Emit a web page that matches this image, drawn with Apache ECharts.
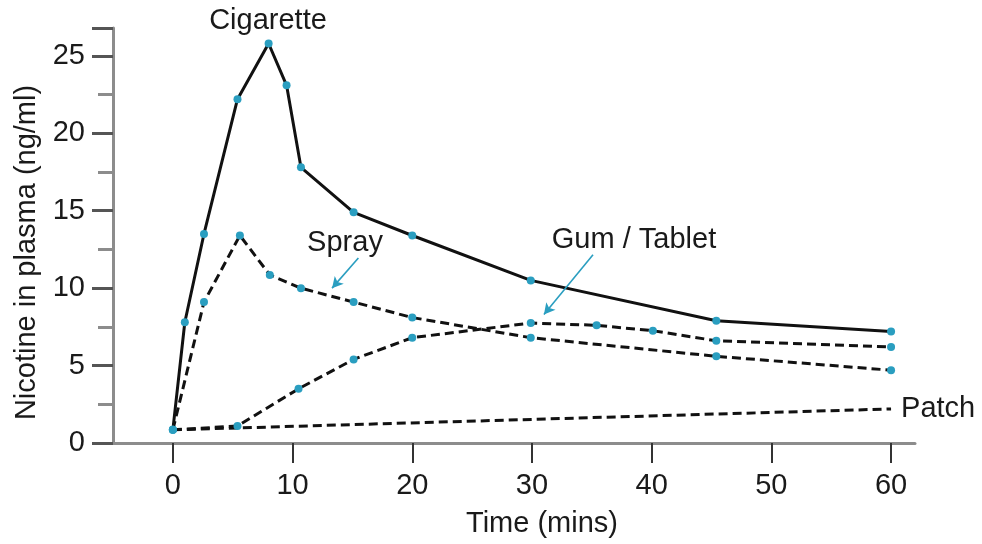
<!DOCTYPE html>
<html style="height: 100%">
<head>
    <meta charset="utf-8">
    <script src="https://cdn.jsdelivr.net/npm/echarts@6/dist/echarts.min.js"></script>
</head>
<body style="height: 100%; margin: 0; background: #fff">
    <div id="main" style="width: 982px; height: 544px"></div>
    <script type="text/javascript">
    // time (mins), nicotine (ng/ml)
    var cigarette = [[0, 0.85], [1.0, 7.8], [2.6, 13.5], [5.4, 22.2], [8.0, 25.8], [9.5, 23.1],
        [10.7, 17.8], [15.1, 14.9], [20.0, 13.4], [29.9, 10.5], [45.4, 7.9], [60, 7.2]];
    var spray = [[0, 0.85], [2.6, 9.1], [5.6, 13.4], [8.1, 10.85], [10.7, 10.0], [15.1, 9.1],
        [20.0, 8.1], [29.9, 6.8], [45.4, 5.6], [60, 4.7]];
    var gum = [[0, 0.85], [5.4, 1.1], [10.5, 3.5], [15.1, 5.4], [20.0, 6.8], [29.9, 7.75],
        [35.4, 7.6], [40.1, 7.25], [45.4, 6.6], [60, 6.2]];
    var patch = [[0, 0.85], [60, 2.2]];

    var xTicks = [0, 10, 20, 30, 40, 50, 60];
    var yTicks = [0, 5, 10, 15, 20, 25];

    // arrow start / end in data coords
    var sprayArrow = [[15.5, 11.95], [13.3, 10.0]];
    var gumArrow = [[35.1, 12.15], [31.0, 8.3]];

    var teal = '#2a9ec0';
    var axisGray = '#8c8c8c';
    var font = 'Liberation Sans, Arial, sans-serif';
    var fs = 29;

    var chart = echarts.init(document.getElementById('main'));

    function lineSeries(name, data, dashed) {
        return {
            name: name,
            type: 'line',
            data: data,
            symbol: 'circle',
            symbolSize: 8,
            showSymbol: true,
            itemStyle: {color: teal},
            lineStyle: {color: '#111', width: 3, type: dashed ? [9, 5] : 'solid'},
            z: 3,
            animation: false
        };
    }

    var sSpray = lineSeries('Spray', spray, true);
    sSpray.markLine = {
        silent: true,
        symbol: ['none', 'arrow'],
        symbolSize: [9, 11],
        label: {show: false},
        lineStyle: {color: teal, width: 1.6, type: 'solid'},
        data: [
            [{coord: sprayArrow[0]}, {coord: sprayArrow[1]}],
            [{coord: gumArrow[0]}, {coord: gumArrow[1]}]
        ]
    };

    var sPatch = lineSeries('Patch', patch, true);
    sPatch.showSymbol = false;
    sPatch.z = 2;
    sPatch.endLabel = {
        show: true,
        formatter: 'Patch',
        distance: 10,
        fontFamily: font,
        fontSize: fs,
        color: '#1a1a1a'
    };

    var option = {
        animation: false,
        grid: {left: 113, right: 67, top: 28, bottom: 101},
        xAxis: {
            type: 'value',
            min: -5,
            max: 62,
            name: 'Time (mins)',
            nameLocation: 'middle',
            nameGap: 66,
            nameTextStyle: {fontFamily: font, fontSize: fs, color: '#1a1a1a', padding: [0, 0, 0, 56]},
            axisLine: {show: true, onZero: false, lineStyle: {color: axisGray, width: 3}},
            axisTick: {show: true, customValues: xTicks, length: 20, lineStyle: {color: '#333', width: 2}},
            axisLabel: {customValues: xTicks, margin: 28, fontFamily: font, fontSize: fs, color: '#1a1a1a'},
            splitLine: {show: false}
        },
        yAxis: {
            type: 'value',
            min: 0,
            max: 26.8,
            interval: 5,
            name: 'Nicotine in plasma (ng/ml)',
            nameLocation: 'middle',
            nameGap: 66,
            nameTextStyle: {fontFamily: font, fontSize: fs, color: '#1a1a1a', padding: [0, 34, 0, 0]},
            axisLine: {show: true, onZero: false, lineStyle: {color: axisGray, width: 3}},
            axisTick: {show: true, length: 21, lineStyle: {color: '#555', width: 3}},
            minorTick: {show: true, splitNumber: 2, length: 15, lineStyle: {color: axisGray, width: 3}},
            axisLabel: {
                margin: 28, fontFamily: font, fontSize: fs, color: '#1a1a1a',
                formatter: function (v) { return yTicks.indexOf(v) >= 0 ? String(v) : ''; }
            },
            splitLine: {show: false},
            minorSplitLine: {show: false}
        },
        graphic: [
            {type: 'text', x: 268, y: 21, style: {text: 'Cigarette', fontFamily: font, fontSize: fs, fill: '#1a1a1a', textAlign: 'center', textVerticalAlign: 'middle'}},
            {type: 'text', x: 345, y: 243, style: {text: 'Spray', fontFamily: font, fontSize: fs, fill: '#1a1a1a', textAlign: 'center', textVerticalAlign: 'middle'}},
            {type: 'text', x: 634, y: 240, style: {text: 'Gum / Tablet', fontFamily: font, fontSize: fs, fill: '#1a1a1a', textAlign: 'center', textVerticalAlign: 'middle'}}
        ],
        series: [
            sPatch,
            lineSeries('Gum / Tablet', gum, true),
            sSpray,
            lineSeries('Cigarette', cigarette, false)
        ]
    };

    chart.setOption(option);
    </script>
</body>
</html>
